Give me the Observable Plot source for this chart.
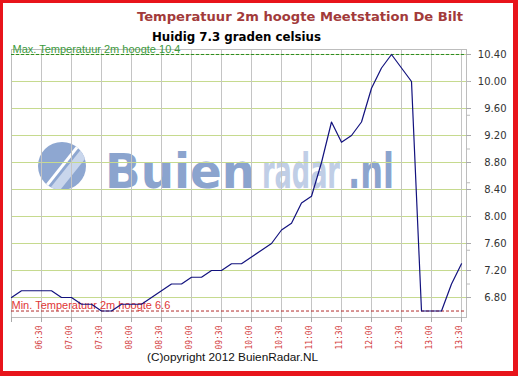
<!DOCTYPE html>
<html><head><meta charset="utf-8">
<script src="https://cdn.jsdelivr.net/npm/d3@7"></script>
<script src="https://cdn.jsdelivr.net/npm/@observablehq/plot@0.6"></script>
<style>
body{margin:0;background:#fff;}
#wrap{position:relative;width:518px;height:376px;overflow:hidden;background:#fff;}
#chart{position:absolute;left:0;top:0;}
#border{position:absolute;left:0;top:0;width:518px;height:376px;box-sizing:border-box;border-style:solid;border-color:#e8141b;border-width:3px 5px 5px 3px;pointer-events:none;}
</style></head><body>
<div id="wrap"><div id="chart"></div><div id="border"></div></div>
<script>
// ---- data ----
const titleText = "Temperatuur 2m hoogte Meetstation De Bilt";
const subtitleText = "Huidig 7.3 graden celsius";
const copyrightText = "(C)opyright 2012 BuienRadar.NL";
const watermarkParts = ["Buien", "radar", ".nl"];
const maxTemp = 10.4;
const minTemp = 6.6;
const times = ["06:00","06:10","06:20","06:30","06:40","06:50","07:00","07:10","07:20","07:30",
  "07:40","07:50","08:00","08:10","08:20","08:30","08:40","08:50","09:00","09:10",
  "09:20","09:30","09:40","09:50","10:00","10:10","10:20","10:30","10:40","10:50",
  "11:00","11:10","11:20","11:30","11:40","11:50","12:00","12:10","12:20","12:30",
  "12:40","12:50","13:00","13:10","13:20","13:30"];
const temps = [6.8,6.9,6.9,6.9,6.9,6.8,6.8,6.7,6.7,6.6,
  6.6,6.7,6.7,6.7,6.8,6.9,7.0,7.0,7.1,7.1,
  7.2,7.2,7.3,7.3,7.4,7.5,7.6,7.8,7.9,8.2,
  8.3,8.8,9.4,9.1,9.2,9.4,9.9,10.2,10.4,10.2,
  10.0,6.6,6.6,6.6,7.0,7.3];
const xTickLabels = ["06:30","07:00","07:30","08:00","08:30","09:00","09:30","10:00",
  "10:30","11:00","11:30","12:00","12:30","13:00","13:30"];
const yTickLabels = ["6.80","7.20","7.60","8.00","8.40","8.80","9.20","9.60","10.00","10.40"];
const yMinorTicks = [7.0,7.5,8.0,8.5,9.0,9.5,10.0];
const xStart = "06:00", xEnd = "13:35";
const yLow = 6.504, yHigh = 10.474;

// ---- build ----
const parse = d3.utcParse("%H:%M");
const data = times.map((t, i) => ({t: parse(t), v: temps[i]}));
const xTicks = xTickLabels.map(parse);
const xTickMarks = [parse(xStart), ...xTicks];
const yTicks = yTickLabels.map(Number);
const xDom = [parse(xStart), parse(xEnd)];
const yDom = [yLow, yHigh];
const fmtY = d3.format(".2f");
const fmtX = d3.utcFormat("%H:%M");

const chart = Plot.plot({
  width: 518, height: 376,
  marginLeft: 11, marginRight: 52, marginTop: 49, marginBottom: 59,
  style: {overflow: "visible"},
  x: {type: "utc", domain: xDom, axis: null},
  y: {domain: yDom, axis: null},
  marks: [
    Plot.ruleY(yTicks, {stroke: "#c6da8e", strokeWidth: 1}),
    Plot.ruleX(xTicks, {stroke: "#c4c4c4", strokeWidth: 1}),
    Plot.frame({stroke: "#bdbdbd"}),
    Plot.ruleX(xTickMarks, {x: d => d, y1: yLow, y2: yLow, insetBottom: -5, stroke: "#aaa"}),
    Plot.ruleY(yTicks, {y: d => d, x1: xDom[1], x2: xDom[1], insetRight: -5, stroke: "#aaa"}),
    Plot.ruleY(yMinorTicks, {y: d => d, x1: xDom[1], x2: xDom[1], insetRight: -4, stroke: "#bbb"}),
    Plot.ruleY([maxTemp], {stroke: "#2a8a2a", strokeDasharray: "3,2"}),
    Plot.ruleY([minTemp], {stroke: "#b02a2a", strokeDasharray: "3,2"}),
    Plot.text([`Max. Temperatuur 2m hoogte ${maxTemp}`], {text: d => d, y: maxTemp, frameAnchor: "left", dx: 1, dy: -1,
      textAnchor: "start", lineAnchor: "bottom", fill: "#3c9a3c", fontSize: 11, fontFamily: "Liberation Sans"}),
    Plot.text([`Min. Temperatuur 2m hoogte ${minTemp}`], {text: d => d, y: minTemp, frameAnchor: "left", dx: 0, dy: -2.5,
      textAnchor: "start", lineAnchor: "bottom", fill: "#e03636", fontSize: 11, fontFamily: "Liberation Sans"}),
    Plot.line(data, {x: "t", y: "v", stroke: "#12127e", strokeWidth: 1.2}),
    Plot.text(yTicks, {y: d => d, text: d => fmtY(d), frameAnchor: "right", dx: 40, textAnchor: "end",
      fill: "#333", fontSize: 10, fontFamily: "DejaVu Sans"}),
    Plot.text(xTicks, {x: d => d, text: d => fmtX(d), frameAnchor: "bottom", dy: 8, rotate: -90,
      textAnchor: "end", fill: "#d23a3a", fontSize: 8, fontFamily: "DejaVu Sans Mono"})
  ]
});
document.getElementById("chart").appendChild(chart);

const svg = d3.select(chart);
// watermark under everything
const wm = svg.insert("g", ":first-child").attr("text-anchor", "start");
const defs = wm.append("defs");
defs.append("clipPath").attr("id", "logoclip").append("circle").attr("cx", 62).attr("cy", 166).attr("r", 24);
wm.append("circle").attr("cx", 62).attr("cy", 166).attr("r", 24).attr("fill", "#8ea7d1");
const lg = wm.append("g").attr("clip-path", "url(#logoclip)");
lg.append("line").attr("x1", 48).attr("y1", 198).attr("x2", 96).attr("y2", 138).attr("stroke", "#c9d6ec").attr("stroke-width", 9);
lg.append("line").attr("x1", 40).attr("y1", 194).attr("x2", 86).attr("y2", 136).attr("stroke", "#fff").attr("stroke-width", 3);
const wStyle = [
  {x: 105, len: 150, fill: "#8ba4ce"},
  {x: 262, len: 78, fill: "#c0cee6"},
  {x: 348, len: 46, fill: "#8ba4ce"}
];
const baseSize = 48;
watermarkParts.forEach((p, i) => {
  const t = wm.append("text").attr("x", 0).attr("y", 0).attr("font-family", "DejaVu Sans").attr("font-weight", "bold")
    .attr("font-size", baseSize).attr("fill", wStyle[i].fill).text(p);
  const nat = t.node().getComputedTextLength() || wStyle[i].len;
  const s = baseSize * wStyle[i].len / nat;
  t.attr("font-size", s).attr("transform", `translate(${wStyle[i].x},188) scale(1,${baseSize / s})`);
});

// titles
const tg = svg.append("g").attr("text-anchor", "start");
tg.append("text").attr("x", 137).attr("y", 21).attr("font-family", "DejaVu Sans").attr("font-weight", "bold")
  .attr("font-size", 12.5).attr("fill", "#a23a3a").attr("textLength", 326).attr("lengthAdjust", "spacingAndGlyphs").text(titleText);
tg.append("text").attr("x", 152).attr("y", 40.5).attr("font-family", "DejaVu Sans").attr("font-weight", "bold")
  .attr("font-size", 11.5).attr("fill", "#000").attr("textLength", 169).attr("lengthAdjust", "spacingAndGlyphs").text(subtitleText);
tg.append("text").attr("x", 147).attr("y", 361).attr("font-family", "Liberation Sans")
  .attr("font-size", 11.5).attr("fill", "#111").attr("textLength", 171).attr("lengthAdjust", "spacingAndGlyphs").text(copyrightText);
</script>
</body></html>
